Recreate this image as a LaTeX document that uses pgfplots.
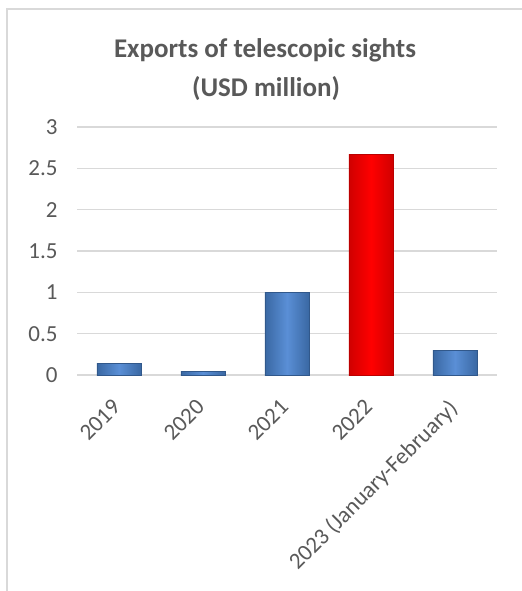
\documentclass[border=0pt]{standalone}
\usepackage{fontspec}
\setmainfont{Carlito}
\usepackage{pgfplots}
\pgfplotsset{compat=1.18}
\definecolor{txt}{HTML}{595959}
\definecolor{gridc}{HTML}{D9D9D9}
\definecolor{frame}{HTML}{D9D9D9}
\definecolor{bluedark}{HTML}{3A68A3}
\definecolor{bluemid}{HTML}{5A8FD6}
\definecolor{reddark}{HTML}{D00000}
\begin{document}
\begin{tikzpicture}
\path[use as bounding box] (0,0) rectangle (522bp,-591bp);
\draw[frame, line width=1.5bp] (7bp,-591bp) -- (7bp,-9bp) -- (522bp,-9bp);
\node[txt, anchor=base, font=\fontsize{27bp}{30bp}\selectfont\bfseries] at (265bp,-57bp) {Exports of telescopic sights};
\node[txt, anchor=base, font=\fontsize{27bp}{30bp}\selectfont\bfseries] at (266bp,-96.5bp) {(USD million)};
\begin{axis}[
  at={(77bp,-375bp)}, anchor=south west,
  scale only axis, width=420bp, height=248bp,
  xmin=-0.5, xmax=4.5, ymin=0, ymax=3,
  ytick={0,0.5,1,1.5,2,2.5,3},
  yticklabels={0,0.5,1,1.5,2,2.5,3},
  xtick={0,1,2,3,4},
  xticklabels={2019,2020,2021,2022,2023 (January-February)},
  axis line style={draw=none},
  major tick length=0pt,
  ymajorgrids, grid style={gridc, line width=1.2bp},
  tick label style={txt, font=\fontsize{23bp}{26bp}\selectfont},
  /pgf/number format/assume math mode=true,
  yticklabel style={anchor=east, xshift=-16bp},
  xticklabel style={xshift=-8bp, yshift=-18bp, rotate=45, anchor=north east},
  clip=false,
  every axis plot/.append style={ybar, bar width=44bp, bar shift=0pt, line width=0.5bp},
  blue bar/.style={draw=bluedark!85!black, left color=bluedark, right color=bluedark, middle color=bluemid},
]
\addplot[blue bar] coordinates {(0,0.14)};
\addplot[blue bar] coordinates {(1,0.04)};
\addplot[blue bar] coordinates {(2,1.0)};
\addplot[draw=reddark!90!black, left color=reddark, right color=reddark, middle color=red] coordinates {(3,2.67)};
\addplot[blue bar] coordinates {(4,0.30)};
\end{axis}
\end{tikzpicture}
\end{document}
